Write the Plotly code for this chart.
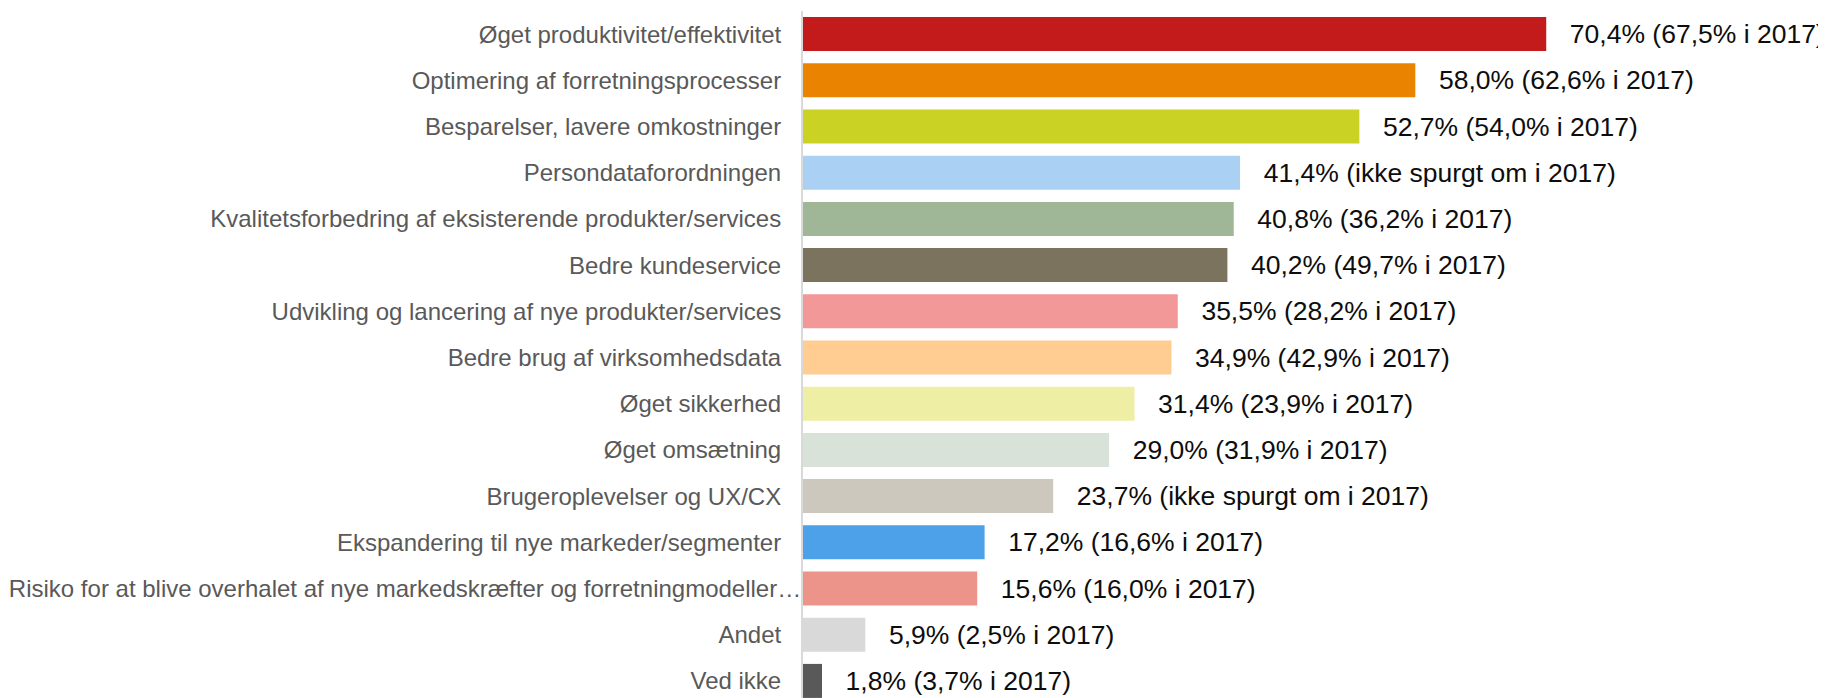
import plotly.graph_objects as go

# categories, top to bottom
categories = [
    "Øget produktivitet/effektivitet",
    "Optimering af forretningsprocesser",
    "Besparelser, lavere omkostninger",
    "Persondataforordningen",
    "Kvalitetsforbedring af eksisterende produkter/services",
    "Bedre kundeservice",
    "Udvikling og lancering af nye produkter/services",
    "Bedre brug af virksomhedsdata",
    "Øget sikkerhed",
    "Øget omsætning",
    "Brugeroplevelser og UX/CX",
    "Ekspandering til nye markeder/segmenter",
    "Risiko for at blive overhalet af nye markedskræfter og forretningmodeller…",
    "Andet",
    "Ved ikke",
]

# bar lengths as drawn in the picture (%)
values = [70.4, 58.0, 52.7, 41.4, 40.8, 40.2, 35.5, 34.9, 31.4, 29.0, 23.7, 17.2, 16.5, 5.9, 1.8]

# data labels as printed next to the bars
value_labels = [
    "70,4% (67,5% i 2017)",
    "58,0% (62,6% i 2017)",
    "52,7% (54,0% i 2017)",
    "41,4% (ikke spurgt om i 2017)",
    "40,8% (36,2% i 2017)",
    "40,2% (49,7% i 2017)",
    "35,5% (28,2% i 2017)",
    "34,9% (42,9% i 2017)",
    "31,4% (23,9% i 2017)",
    "29,0% (31,9% i 2017)",
    "23,7% (ikke spurgt om i 2017)",
    "17,2% (16,6% i 2017)",
    "15,6% (16,0% i 2017)",
    "5,9% (2,5% i 2017)",
    "1,8% (3,7% i 2017)",
]

colors = [
    "#C31B1B", "#E98300", "#CAD324", "#AAD1F3", "#9FB797",
    "#7B735E", "#F29898", "#FFCC91", "#EEEEA5", "#D8E2D8",
    "#CDC8BD", "#4DA1E8", "#EC938A", "#D9D9D9", "#595959",
]

# the truncated label sits right against the axis, the others keep a gap
tick_text = [c if c.endswith("…") else c + "\u00a0\u00a0\u00a0" for c in categories]

fig = go.Figure()

fig.add_trace(go.Bar(
    y=categories,
    x=values,
    orientation="h",
    marker=dict(color=colors, line=dict(width=0)),
    text=["\u2002\u00a0" + t for t in value_labels],
    textposition="outside",
    textfont=dict(family="Liberation Sans, Arial", size=26.5, color="#0D0D0D"),
    constraintext="none",
    cliponaxis=False,
    hoverinfo="skip",
))

# page body adds 8px on the left and top
fig.update_layout(
    width=1818,
    height=690,
    margin=dict(l=795, r=0, t=3, b=0, autoexpand=False),
    paper_bgcolor="white",
    plot_bgcolor="white",
    bargap=0.264,
    showlegend=False,
    font=dict(family="Liberation Sans, Arial"),
)

fig.update_xaxes(
    range=[0, 96.9],
    visible=False,
    showgrid=False,
    zeroline=False,
    automargin=False,
)

fig.update_yaxes(
    type="category",
    range=[14.37, -0.5],
    tickmode="array",
    tickvals=categories,
    ticktext=tick_text,
    automargin=False,
    showgrid=False,
    zeroline=False,
    showline=True,
    linecolor="#D9D9D9",
    linewidth=2,
    ticks="",
    ticklabelstandoff=-5,
    tickfont=dict(family="Liberation Sans, Arial", size=24, color="#595959"),
)

fig.write_html("out.html")
